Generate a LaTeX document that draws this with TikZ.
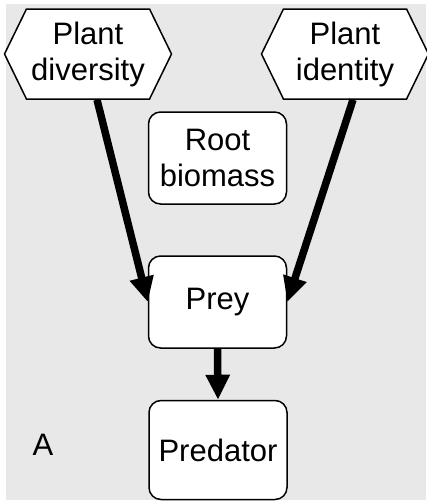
\documentclass[tikz,border=0pt]{standalone}
\usepackage{fontspec}
\setmainfont{Liberation Sans}
\usetikzlibrary{shapes.symbols, arrows.meta, positioning}

\definecolor{bggray}{HTML}{E8E8E8}

\tikzset{
  box/.style={draw, fill=white, rounded corners=12pt, line width=1.5pt,
    align=center, minimum width=138pt, inner sep=2pt,
    font=\fontsize{31}{36}\selectfont},
  hexa/.style={draw, fill=white, signal, signal to=west and east,
    signal pointer angle=128, line width=1.5pt, align=center,
    minimum width=167pt, minimum height=90pt, inner sep=0pt,
    font=\fontsize{31}{36}\selectfont},
  link/.style={-{Triangle[width=23pt,length=25pt]}, line width=7.5pt}
}

\begin{document}
\begin{tikzpicture}[x=1pt, y=-1pt]
% frame and grey panel
\useasboundingbox (0,0) rectangle (426,501);
\fill[bggray] (6,4) rectangle (426,500);

% plant nodes
\node[hexa] (pdiv) at (88,54) {Plant\\diversity};
\node[hexa] (pid) at (345,54) {Plant\\identity};

% boxes
\node[box, minimum height=92pt] (root) at (217.5,158) {Root\\biomass};
\node[box, minimum height=92pt] (prey) at (217.5,302) {Prey};
\node[box, minimum height=99pt] (pred) at (218,450) {Predator};

\node[font=\fontsize{31}{36}\selectfont] (panel) at (43,445) {A};

% arrows
\draw[link] ([xshift=9pt]pdiv.south) -- (prey.west);
\draw[link] ([xshift=8pt]pid.south) -- (prey.east);
\draw[link] (prey.south) -- (pred.north);

\end{tikzpicture}
\end{document}
